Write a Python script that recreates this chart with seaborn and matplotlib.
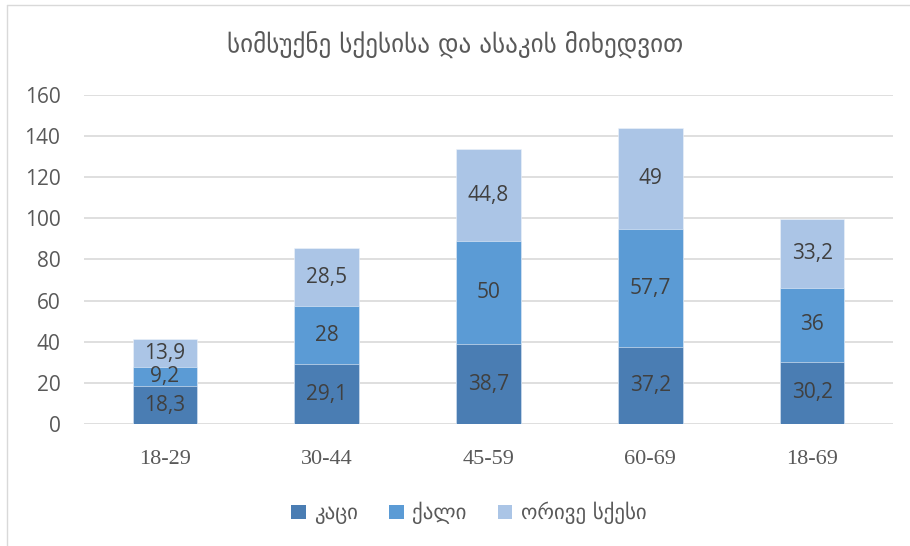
import matplotlib
matplotlib.use("Agg")
import matplotlib.pyplot as plt
import seaborn as sns
import pandas as pd
import numpy as np
from matplotlib.patches import Patch
from matplotlib.lines import Line2D

categories = ["18-29", "30-44", "45-59", "60-69", "18-69"]
men = [18.3, 29.1, 38.7, 37.2, 30.2]
women = [9.2, 28, 50, 57.7, 36]
both = [13.9, 28.5, 44.8, 49, 33.2]
series_names = ["კაცი", "ქალი", "ორივე სქესი"]
title = "სიმსუქნე სქესისა და ასაკის მიხედვით"
yticks = [0, 20, 40, 60, 80, 100, 120, 140, 160]

colors = ["#4a7db3", "#5b9bd5", "#abc5e6"]

sns.set_theme(style="white")
plt.rcParams["font.family"] = ["DejaVu Sans"]

fig = plt.figure(figsize=(9.1, 5.46), dpi=100)
ax = fig.add_axes([0.0923, 0.2234, 0.8890, 0.6032])

series = [men, women, both]
cum = np.cumsum(np.array(series, dtype=float), axis=0)

# draw from tallest cumulative to shortest so stacks layer correctly
for k in [2, 1, 0]:
    df = pd.DataFrame({"cat": categories, "val": cum[k]})
    sns.barplot(data=df, x="cat", y="val", color=colors[k], saturation=1,
                width=0.4, edgecolor="#eef3fa", linewidth=0.4, ax=ax, zorder=3)

def fmt(v):
    return ("%g" % v).replace(".", ",")

for k in range(3):
    bottoms = cum[k] - np.array(series[k])
    for i, v in enumerate(series[k]):
        ax.text(i, bottoms[i] + v / 2, fmt(v), ha="center", va="center",
                fontsize=15, color="#404040", family="Open Sans", zorder=5)

ax.set_ylim(0, 160)
ax.set_xlim(-0.5, 4.5)
ax.set_yticks(yticks)
ax.yaxis.grid(True, color="#d9d9d9", linewidth=1.2, zorder=0)
ax.set_axisbelow(True)
for s in ax.spines.values():
    s.set_visible(False)
ax.set_xlabel("")
ax.set_ylabel("")
ax.tick_params(axis="y", length=0, pad=17, labelsize=15, labelcolor="#595959")
ax.tick_params(axis="x", length=0, pad=19, labelsize=16, labelcolor="#595959")
for lab in ax.get_yticklabels():
    lab.set_family("Open Sans")
for lab in ax.get_xticklabels():
    lab.set_family("Liberation Serif")

fig.text(0.5, 0.918, title, ha="center", va="center", fontsize=18, color="#595959")

handles = [Patch(facecolor=c, edgecolor="none") for c in colors]
fig.legend(handles, series_names, loc="center", bbox_to_anchor=(0.515, 0.06),
           ncol=3, frameon=False, fontsize=15, labelcolor="#595959",
           handlelength=0.7, handleheight=0.7, handletextpad=0.4, columnspacing=1.5)

# chart-area border (left & top visible)
fig.add_artist(Line2D([0.008, 0.008], [0, 0.99], transform=fig.transFigure, color="#d9d9d9", lw=1))
fig.add_artist(Line2D([0.008, 1.0], [0.99, 0.99], transform=fig.transFigure, color="#d9d9d9", lw=1))

fig.savefig("out.png", dpi=100)
